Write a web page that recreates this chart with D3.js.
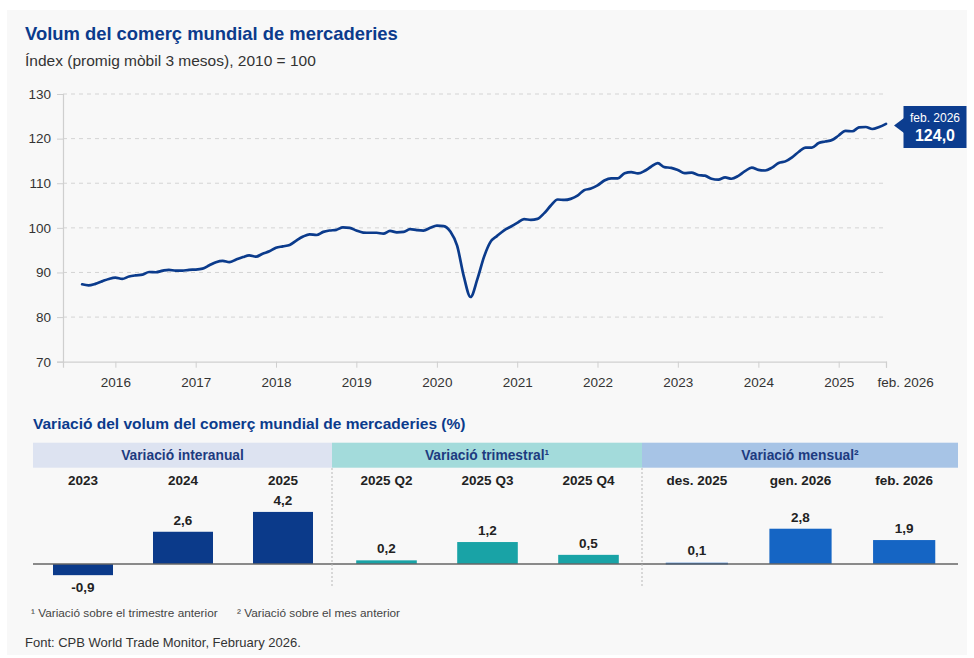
<!DOCTYPE html>
<html><head><meta charset="utf-8">
<script src="https://cdn.jsdelivr.net/npm/d3@7"></script>
<style>
html,body{margin:0;padding:0;background:#fff;}
svg{display:block;font-family:"Liberation Sans",Arial,Helvetica,sans-serif;}
</style></head><body>
<svg id="chart" width="974" height="658"></svg>
<script>
// ---------- DATA ----------
const startMonth = "2016-02";
const endMonth = "2026-02";
const tradeIndex = [
 87.35,87.1,87.45,88.0,88.55,88.85,88.55,89.1,89.35,89.5,
 90.1,90.05,90.4,90.6,90.4,90.4,90.6,90.65,90.85,91.6,
 92.3,92.6,92.3,92.9,93.45,93.85,93.55,94.2,94.75,95.55,
 95.85,96.15,97.15,98.05,98.55,98.4,99.1,99.4,99.55,100.1,
 100.0,99.4,98.95,98.9,98.9,98.7,99.3,99.0,99.1,99.7,
 99.5,99.4,100.0,100.5,100.4,99.1,96.0,89.0,84.5,88.5,
 93.6,96.8,98.2,99.4,100.25,101.1,101.95,101.8,102.0,103.3,
 105.0,106.35,106.25,106.5,107.2,108.45,108.8,109.5,110.6,111.1,
 111.1,112.25,112.5,112.2,112.8,113.7,114.5,113.6,113.45,112.95,
 112.25,112.4,111.85,111.7,111.0,110.8,111.3,111.0,111.65,112.7,
 113.5,113.0,112.85,113.5,114.55,114.9,115.8,117.05,118.0,118.0,
 119.0,119.35,119.7,120.7,121.75,121.65,122.5,122.6,122.15,122.6,
 123.3
];
const yearTickLabels = ["2016","2017","2018","2019","2020","2021","2022","2023","2024","2025"];
const endTickLabel = "feb. 2026";
const yTickValues = [70,80,90,100,110,120,130];
const calloutLabel = "feb. 2026";
const calloutValue = 124.0;

const groupTitles = ["Variació interanual","Variació trimestral¹","Variació mensual²"];
const annualCats = ["2023","2024","2025"];
const annualVals = [-0.9,2.6,4.2];
const quarterCats = ["2025 Q2","2025 Q3","2025 Q4"];
const quarterVals = [0.2,1.2,0.5];
const monthCats = ["des. 2025","gen. 2026","feb. 2026"];
const monthVals = [0.1,2.8,1.9];

const footnote1 = "¹ Variació sobre el trimestre anterior";
const footnote2 = "² Variació sobre el mes anterior";
const source = "Font: CPB World Trade Monitor, February 2026.";
const title = "Volum del comerç mundial de mercaderies";
const subtitle = "Índex (promig mòbil 3 mesos), 2010 = 100";
const title2 = "Variació del volum del comerç mundial de mercaderies (%)";

// ---------- SETUP ----------
const svg = d3.select("#chart");
const loc = d3.formatLocale({decimal:",",thousands:".",grouping:[3],currency:["","€"],minus:"-"});
const f1 = loc.format(".1f");
const parseM = d3.timeParse("%Y-%m");
const months = d3.timeMonth.range(parseM(startMonth), d3.timeMonth.offset(parseM(endMonth),1));
const series = months.map((d,i)=>({date:d, v:tradeIndex[i]}));

const NAVY = "#0b3b8c";

svg.append("rect").attr("x",7).attr("y",10).attr("width",960).attr("height",645).attr("fill","#f8f8f8");

svg.append("text").attr("x",25).attr("y",40).attr("fill",NAVY)
  .attr("font-size",18.4).attr("font-weight","bold").text(title);
svg.append("text").attr("x",25).attr("y",66).attr("fill","#333")
  .attr("font-size",15.5).text(subtitle);

// ---------- LINE CHART ----------
const x = d3.scaleTime().domain([new Date(2015,10,6), new Date(2026,1,1)]).range([63,886]);
const y = d3.scaleLinear().domain([70,130]).range([361.7,94]);

const gGrid = svg.append("g");
gGrid.selectAll("line").data(yTickValues.filter(v=>v>70)).join("line")
  .attr("x1",63).attr("x2",886).attr("y1",d=>y(d)).attr("y2",d=>y(d))
  .attr("stroke","#d4d4d4").attr("stroke-width",1).attr("stroke-dasharray","4,4");

const yAxis = svg.append("g").attr("transform","translate(63,0)")
  .call(d3.axisLeft(y).tickValues(yTickValues).tickSize(6).tickPadding(6).tickFormat(d3.format("d")));
yAxis.select(".domain").attr("stroke","#cfcfcf").attr("stroke-width",1.2);
yAxis.selectAll(".tick line").attr("stroke","#cfcfcf");
yAxis.selectAll(".tick text").attr("fill","#333").attr("font-size",13.5).attr("font-family","Liberation Sans, Arial, sans-serif");

const xTickDates = yearTickLabels.map(s=>new Date(+s,6,1)).concat([new Date(2026,1,1)]);
const xAxis = svg.append("g").attr("transform","translate(0,361.7)")
  .call(d3.axisBottom(x).tickValues(xTickDates).tickSize(6).tickPadding(10)
    .tickFormat((d,i)=> i<yearTickLabels.length ? yearTickLabels[i] : endTickLabel));
xAxis.select(".domain").attr("stroke","#cfcfcf").attr("stroke-width",1.2);
xAxis.selectAll(".tick line").attr("stroke","#cfcfcf");
xAxis.selectAll(".tick text").attr("fill","#333").attr("font-size",13.5).attr("font-family","Liberation Sans, Arial, sans-serif");
xAxis.selectAll(".tick").filter((d,i)=>i===yearTickLabels.length).select("text")
  .attr("text-anchor","start").attr("dx",-9);

svg.append("path").datum(series)
  .attr("fill","none").attr("stroke",NAVY).attr("stroke-width",2.7)
  .attr("stroke-linejoin","round").attr("stroke-linecap","round")
  .attr("d", d3.line().x(d=>x(d.date)).y(d=>y(d.v)).curve(d3.curveMonotoneX));

// callout
const last = series[series.length-1];
const cx = x(last.date)+8, cy = y(last.v);
const cg = svg.append("g");
cg.append("rect").attr("x",cx+9.5).attr("y",106).attr("width",63).attr("height",42).attr("fill","#0c3d8f");
cg.append("path").attr("d",`M${cx+10},${cy-6}L${cx},${cy+1.5}L${cx+10},${cy+9}Z`).attr("fill","#0c3d8f");
cg.append("text").attr("x",cx+41).attr("y",121.5).attr("text-anchor","middle").attr("fill","#fff")
  .attr("font-size",12).text(calloutLabel);
cg.append("text").attr("x",cx+41).attr("y",140.5).attr("text-anchor","middle").attr("fill","#fff")
  .attr("font-size",16).attr("font-weight","bold").text(f1(calloutValue));

// ---------- BAR PANELS ----------
svg.append("text").attr("x",33).attr("y",429).attr("fill",NAVY)
  .attr("font-size",15.5).attr("font-weight","bold").text(title2);

const panels = [
  {title:groupTitles[0], cats:annualCats, vals:annualVals, band:[33,332], range:[33,333], color:"#0b3a8a", head:"#dde3f1", k:12.4},
  {title:groupTitles[1], cats:quarterCats, vals:quarterVals, band:[332,642], range:[336,639], color:"#19a3a6", head:"#a3dbdb", k:18.3},
  {title:groupTitles[2], cats:monthCats, vals:monthVals, band:[642,958], range:[645,956], color:"#1565c4", head:"#a7c4e6", k:12.6}
];
const base = 564;
panels.forEach((p,pi)=>{
  const g = svg.append("g");
  g.append("rect").attr("x",p.band[0]).attr("y",442.7).attr("width",p.band[1]-p.band[0]).attr("height",25).attr("fill",p.head);
  g.append("text").attr("x",(p.band[0]+p.band[1])/2).attr("y",459.5).attr("text-anchor","middle")
    .attr("fill","#1d3b80").attr("font-size",13.8).attr("font-weight","bold").text(p.title);
  const xb = d3.scaleBand().domain(p.cats).range(p.range).paddingInner(0.4).paddingOuter(0.2);
  const yb = d3.scaleLinear().domain([0,1]).range([base, base-p.k]);
  const data = p.cats.map((c,i)=>({c, v:p.vals[i]}));
  g.selectAll("text.cat").data(data).join("text").attr("class","cat")
    .attr("x",d=>xb(d.c)+xb.bandwidth()/2).attr("y",485).attr("text-anchor","middle")
    .attr("fill","#222").attr("font-size",13.5).attr("font-weight","bold").text(d=>d.c);
  g.selectAll("rect.bar").data(data).join("rect").attr("class","bar")
    .attr("x",d=>xb(d.c)).attr("width",xb.bandwidth())
    .attr("y",d=>Math.min(yb(d.v),yb(0))).attr("height",d=>Math.max(1.8,Math.abs(yb(d.v)-yb(0))))
    .attr("fill",p.color);
  g.selectAll("text.val").data(data).join("text").attr("class","val")
    .attr("x",d=>xb(d.c)+xb.bandwidth()/2)
    .attr("y",d=> d.v>=0 ? Math.min(yb(d.v),base-2)-7 : yb(d.v)+16.5)
    .attr("text-anchor","middle").attr("fill","#222").attr("font-size",13.5).attr("font-weight","bold")
    .text(d=>f1(d.v));
});
svg.append("line").attr("x1",33).attr("x2",958).attr("y1",base).attr("y2",base)
  .attr("stroke","#666").attr("stroke-width",1.5);
[332,642].forEach(sx=>{
  svg.append("line").attr("x1",sx).attr("x2",sx).attr("y1",468).attr("y2",586)
    .attr("stroke","#b8b8b8").attr("stroke-width",1).attr("stroke-dasharray","2,2");
});

svg.append("text").attr("x",31).attr("y",616.5).attr("fill","#444").attr("font-size",11.8).text(footnote1);
svg.append("text").attr("x",237).attr("y",616.5).attr("fill","#444").attr("font-size",11.8).text(footnote2);
svg.append("text").attr("x",25).attr("y",647).attr("fill","#333").attr("font-size",13).text(source);
</script>
</body></html>
